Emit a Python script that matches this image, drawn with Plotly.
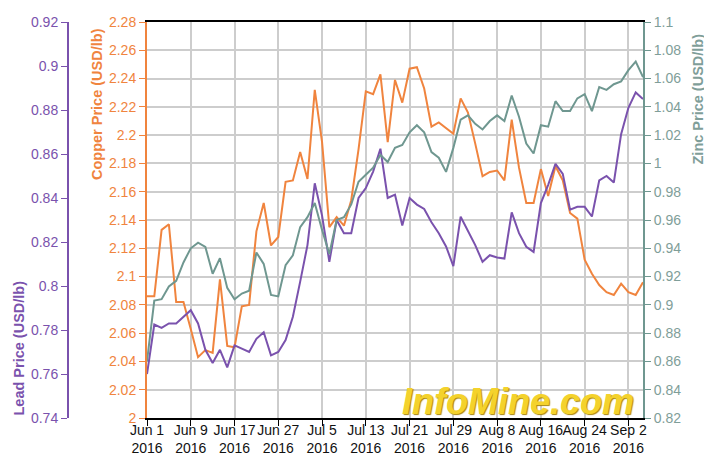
import plotly.graph_objects as go

dates = [
    "2016-06-01", "2016-06-02", "2016-06-03", "2016-06-06", "2016-06-07", "2016-06-08",
    "2016-06-09", "2016-06-10", "2016-06-13", "2016-06-14", "2016-06-15", "2016-06-16",
    "2016-06-17", "2016-06-20", "2016-06-21", "2016-06-22", "2016-06-23", "2016-06-24",
    "2016-06-27", "2016-06-28", "2016-06-29", "2016-06-30", "2016-07-01", "2016-07-04",
    "2016-07-05", "2016-07-06", "2016-07-07", "2016-07-08", "2016-07-11", "2016-07-12",
    "2016-07-13", "2016-07-14", "2016-07-15", "2016-07-18", "2016-07-19", "2016-07-20",
    "2016-07-21", "2016-07-22", "2016-07-25", "2016-07-26", "2016-07-27", "2016-07-28",
    "2016-07-29", "2016-08-01", "2016-08-02", "2016-08-03", "2016-08-04", "2016-08-05",
    "2016-08-08", "2016-08-09", "2016-08-10", "2016-08-11", "2016-08-12", "2016-08-15",
    "2016-08-16", "2016-08-17", "2016-08-18", "2016-08-19", "2016-08-22", "2016-08-23",
    "2016-08-24", "2016-08-25", "2016-08-26", "2016-08-30", "2016-08-31", "2016-09-01",
    "2016-09-02", "2016-09-05", "2016-09-06",
]

copper = [
    2.086, 2.086, 2.133, 2.137, 2.082, 2.082, 2.063, 2.043, 2.048, 2.046, 2.098, 2.051,
    2.050, 2.079, 2.080, 2.132, 2.152, 2.122, 2.128, 2.167, 2.168, 2.188, 2.169, 2.232,
    2.195, 2.135, 2.142, 2.136, 2.154, 2.190, 2.231, 2.229, 2.243, 2.195, 2.239, 2.223,
    2.247, 2.248, 2.233, 2.206, 2.209, 2.205, 2.201, 2.226, 2.216, 2.194, 2.171, 2.174,
    2.175, 2.168, 2.211, 2.177, 2.152, 2.152, 2.176, 2.157, 2.178, 2.168, 2.145, 2.141,
    2.112, 2.102, 2.094, 2.089, 2.087, 2.095, 2.089, 2.087, 2.096,
]

zinc = [
    0.860, 0.903, 0.904, 0.913, 0.917, 0.930, 0.940, 0.944, 0.941, 0.922, 0.933, 0.912,
    0.904, 0.908, 0.910, 0.937, 0.929, 0.907, 0.906, 0.928, 0.935, 0.955, 0.962, 0.972,
    0.953, 0.936, 0.960, 0.962, 0.971, 0.987, 0.992, 0.997, 1.006, 1.001, 1.011, 1.013,
    1.022, 1.027, 1.022, 1.008, 1.004, 0.994, 1.011, 1.031, 1.034, 1.028, 1.024, 1.030,
    1.034, 1.030, 1.048, 1.033, 1.014, 1.007, 1.027, 1.026, 1.044, 1.037, 1.037, 1.046,
    1.049, 1.037, 1.054, 1.052, 1.056, 1.058, 1.066, 1.072, 1.061,
]

lead = [
    0.7600, 0.7825, 0.7810, 0.7830, 0.7830, 0.7860, 0.7890, 0.7830, 0.7710, 0.7650, 0.7710, 0.7630,
    0.7730, 0.7715, 0.7700, 0.7760, 0.7790, 0.7685, 0.7700, 0.7754, 0.7860, 0.8020, 0.8186, 0.8467,
    0.8320, 0.8110, 0.8300, 0.8240, 0.8240, 0.8400, 0.8445, 0.8520, 0.8624, 0.8400, 0.8415, 0.8275,
    0.8400, 0.8370, 0.8350, 0.8290, 0.8240, 0.8180, 0.8090, 0.8315, 0.8250, 0.8186, 0.8110, 0.8140,
    0.8130, 0.8125, 0.8335, 0.8240, 0.8178, 0.8155, 0.8377, 0.8460, 0.8555, 0.8510, 0.8347, 0.8360,
    0.8360, 0.8316, 0.8480, 0.8500, 0.8470, 0.8690, 0.8810, 0.8880, 0.8850,
]

tick_dates = ["2016-06-01", "2016-06-09", "2016-06-17", "2016-06-27", "2016-07-05", "2016-07-13",
              "2016-07-21", "2016-07-29", "2016-08-08", "2016-08-16", "2016-08-24", "2016-09-02"]
tick_labels = ["Jun 1<br>2016", "Jun 9<br>2016", "Jun 17<br>2016", "Jun 27<br>2016",
               "Jul 5<br>2016", "Jul 13<br>2016", "Jul 21<br>2016", "Jul 29<br>2016",
               "Aug 8<br>2016", "Aug 16<br>2016", "Aug 24<br>2016", "Sep 2<br>2016"]

COPPER = "#f0843e"
LEAD = "#7a52ad"
ZINC = "#6f9790"
ZINC_TXT = "#7f9e99"
GRID = "#cdcdcd"
FONT = "Liberation Sans, Arial, sans-serif"

fig = go.Figure()
fig.add_trace(go.Scatter(x=dates, y=zinc, yaxis="y3", mode="lines",
                         line=dict(color=ZINC, width=2), name="Zinc"))
fig.add_trace(go.Scatter(x=dates, y=copper, yaxis="y", mode="lines",
                         line=dict(color=COPPER, width=2), name="Copper"))
fig.add_trace(go.Scatter(x=dates, y=lead, yaxis="y2", mode="lines",
                         line=dict(color=LEAD, width=2), name="Lead"))

fig.update_layout(
    width=704, height=457,
    margin=dict(l=0, r=0, t=22, b=39, autoexpand=False),
    paper_bgcolor="white", plot_bgcolor="white",
    showlegend=False,
    font=dict(family=FONT, size=14),
    xaxis=dict(
        type="category", domain=[147 / 704, 643 / 704], range=[0, len(dates) - 1],
        automargin=False,
        tickmode="array", tickvals=tick_dates, ticktext=tick_labels,
        showgrid=True, gridcolor=GRID, gridwidth=2,
        showline=True, linecolor="black", linewidth=2, mirror=True,
        ticks="outside", ticklen=6, tickcolor="black", tickwidth=1,
        tickfont=dict(color="#111111", size=14), tickangle=0,
        ticklabelstandoff=-8,
    ),
    yaxis=dict(
        range=[2.0, 2.28], dtick=0.02, tick0=2.0, automargin=False,
        showgrid=True, gridcolor=GRID, gridwidth=2, zeroline=False,
        showline=True, linecolor=COPPER, linewidth=2,
        ticks="outside", ticklen=6, tickcolor=COPPER,
        tickfont=dict(color=COPPER, size=14),
    ),
    yaxis2=dict(
        range=[0.74, 0.92], dtick=0.02, tick0=0.74, automargin=False,
        overlaying="y", side="left", anchor="free", position=68 / 704,
        showgrid=False, zeroline=False,
        showline=True, linecolor=LEAD, linewidth=2,
        ticks="outside", ticklen=6, tickcolor=LEAD,
        tickfont=dict(color=LEAD, size=14),
    ),
    yaxis3=dict(
        range=[0.82, 1.1], dtick=0.02, tick0=0.82, automargin=False,
        overlaying="y", side="right", anchor="x",
        showgrid=False, zeroline=False,
        showline=True, linecolor=ZINC, linewidth=2,
        ticks="outside", ticklen=6, tickcolor=ZINC,
        tickfont=dict(color=ZINC_TXT, size=14),
    ),
)

fig.add_annotation(text="<b>Lead Price (USD/lb)</b>", textangle=-90,
                   xref="paper", yref="paper", x=18 / 704, y=0.0,
                   xanchor="center", yanchor="bottom", showarrow=False,
                   font=dict(color=LEAD, size=14.5, family=FONT))
fig.add_annotation(text="<b>Copper Price (USD/lb)</b>", textangle=-90,
                   xref="paper", yref="paper", x=97 / 704, y=(418 - 26) / 396,
                   xanchor="center", yanchor="top", showarrow=False,
                   font=dict(color=COPPER, size=14.5, family=FONT))
fig.add_annotation(text="<b>Zinc Price (USD/lb)</b>", textangle=-90,
                   xref="paper", yref="paper", x=697 / 704, y=(418 - 32) / 396,
                   xanchor="center", yanchor="top", showarrow=False,
                   font=dict(color=ZINC_TXT, size=14.5, family=FONT))
fig.add_annotation(text="InfoMine.com",
                   xref="paper", yref="paper", x=518 / 704, y=(418 - 401) / 396,
                   xanchor="center", yanchor="middle", showarrow=False,
                   font=dict(color="#f4d22c", size=36, family=FONT, weight="bold",
                             style="italic", shadow="1px 1px 1px #a8860a"))

fig.write_html("out.html",
               config={"displayModeBar": False},
               post_script="document.body.style.margin='0px';document.body.style.overflow='hidden';")
